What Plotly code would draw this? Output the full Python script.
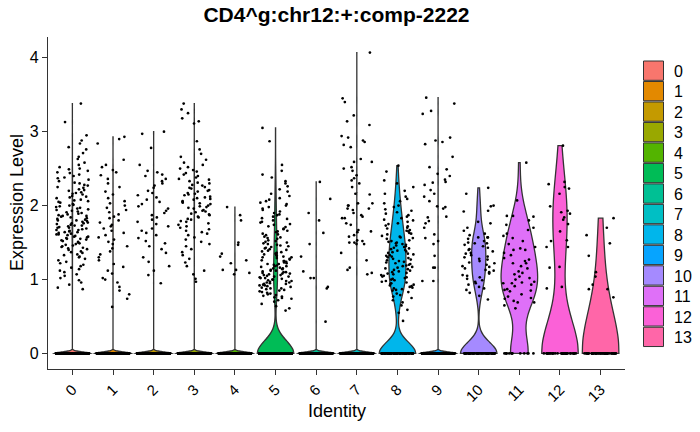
import numpy as np
import plotly.graph_objects as go

# ---------------- data ----------------
identities = [str(i) for i in range(14)]
colors = ["#F8766D", "#E38900", "#C49A00", "#99A800", "#53B400", "#00BC56", "#00C094",
          "#00BFC4", "#00B6EB", "#06A4FF", "#A58AFF", "#DF70F8", "#FB61D7", "#FF66A8"]

# number of cells with zero expression per identity (estimated)
zero_counts = [500, 500, 500, 500, 500, 520, 500, 500, 80, 500, 58, 13, 38, 48]

# non-zero expression values per identity
expr_0 = [3.38, 3.13, 2.95, 2.88, 2.84, 2.79, 2.76, 2.71, 2.66, 2.63, 2.58, 2.55, 2.52, 2.50, 2.49, 2.47,
          2.45, 2.44, 2.42, 2.40, 2.38, 2.37, 2.35, 2.33, 2.31, 2.30, 2.28, 2.27, 2.25, 2.24, 2.22, 2.21,
          2.20, 2.18, 2.17, 2.16, 2.15, 2.13, 2.12, 2.11, 2.10, 2.08, 2.07, 2.06, 2.05, 2.04, 2.02, 2.01,
          2.00, 1.99, 1.98, 1.97, 1.96, 1.95, 1.94, 1.93, 1.92, 1.91, 1.90, 1.89, 1.88, 1.87, 1.86, 1.86,
          1.85, 1.84, 1.83, 1.82, 1.81, 1.80, 1.80, 1.79, 1.78, 1.77, 1.76, 1.76, 1.75, 1.74, 1.73, 1.73,
          1.72, 1.71, 1.70, 1.70, 1.69, 1.68, 1.67, 1.67, 1.66, 1.65, 1.64, 1.64, 1.63, 1.62, 1.61, 1.61,
          1.60, 1.59, 1.58, 1.58, 1.57, 1.56, 1.55, 1.55, 1.54, 1.53, 1.52, 1.51, 1.50, 1.49, 1.48, 1.47,
          1.46, 1.45, 1.44, 1.43, 1.42, 1.41, 1.40, 1.38, 1.37, 1.36, 1.34, 1.33, 1.31, 1.30, 1.28, 1.26,
          1.24, 1.22, 1.20, 1.18, 1.16, 1.14, 1.12, 1.10, 1.07, 1.05, 1.02, 0.99, 0.96, 0.93, 0.89, 0.87]
expr_1 = [2.93, 2.90, 2.84, 2.62, 2.55, 2.52, 2.48, 2.45, 2.41, 2.36, 2.30, 2.25, 2.19, 2.15, 2.10, 2.06,
          2.03, 2.00, 1.97, 1.94, 1.91, 1.88, 1.85, 1.83, 1.80, 1.77, 1.74, 1.72, 1.69, 1.66, 1.63, 1.60,
          1.57, 1.54, 1.51, 1.48, 1.45, 1.42, 1.38, 1.34, 1.30, 1.26, 1.21, 1.17, 1.12, 1.08, 1.02, 1.00,
          0.96, 0.90, 0.85, 0.80, 0.74, 0.63]
expr_2 = [3.00, 2.97, 2.78, 2.55, 2.47, 2.45, 2.42, 2.40, 2.36, 2.33, 2.30, 2.27, 2.24, 2.20, 2.17, 2.14,
          2.11, 2.08, 2.05, 2.02, 1.99, 1.96, 1.93, 1.90, 1.87, 1.84, 1.81, 1.78, 1.75, 1.72, 1.69, 1.66,
          1.63, 1.60, 1.56, 1.52, 1.49, 1.45, 1.41, 1.36, 1.30, 1.24, 1.18, 1.12, 1.06, 0.95]
expr_3 = [3.38, 3.30, 3.25, 3.18, 3.14, 3.11, 2.87, 2.76, 2.70, 2.66, 2.62, 2.58, 2.55, 2.52, 2.50, 2.48,
          2.46, 2.44, 2.42, 2.40, 2.38, 2.36, 2.35, 2.33, 2.31, 2.30, 2.28, 2.27, 2.25, 2.24, 2.23, 2.21,
          2.20, 2.19, 2.17, 2.16, 2.15, 2.14, 2.12, 2.11, 2.10, 2.09, 2.08, 2.06, 2.05, 2.04, 2.03, 2.02,
          2.00, 1.99, 1.98, 1.97, 1.96, 1.94, 1.93, 1.92, 1.91, 1.89, 1.88, 1.87, 1.85, 1.84, 1.82, 1.81,
          1.79, 1.78, 1.76, 1.74, 1.72, 1.70, 1.68, 1.66, 1.64, 1.62, 1.60, 1.57, 1.54, 1.51, 1.48, 1.45,
          1.41, 1.37, 1.33, 1.28, 1.23, 1.18, 1.12, 1.07, 1.01, 0.97]
expr_4 = [1.98, 1.87, 1.80, 1.50, 1.47, 1.35, 1.31, 1.26, 1.22, 1.13, 1.13, 1.09, 1.07]
expr_5 = [3.05, 2.87, 2.55, 2.47, 2.42, 2.38, 2.33, 2.30, 2.26, 2.22, 2.19, 2.16, 2.13, 2.10, 2.08, 2.06,
          2.04, 2.02, 2.00, 1.98, 1.96, 1.94, 1.92, 1.90, 1.88, 1.87, 1.85, 1.83, 1.82, 1.80, 1.78, 1.77,
          1.75, 1.74, 1.72, 1.71, 1.69, 1.68, 1.66, 1.65, 1.64, 1.62, 1.61, 1.60, 1.58, 1.57, 1.56, 1.55,
          1.53, 1.52, 1.51, 1.50, 1.49, 1.48, 1.47, 1.46, 1.45, 1.44, 1.43, 1.42, 1.41, 1.40, 1.39, 1.38,
          1.37, 1.36, 1.35, 1.34, 1.33, 1.32, 1.31, 1.30, 1.30, 1.29, 1.28, 1.27, 1.26, 1.25, 1.25, 1.24,
          1.23, 1.22, 1.21, 1.21, 1.20, 1.19, 1.18, 1.18, 1.17, 1.16, 1.15, 1.15, 1.14, 1.13, 1.12, 1.12,
          1.11, 1.10, 1.10, 1.09, 1.08, 1.08, 1.07, 1.06, 1.06, 1.05, 1.04, 1.04, 1.03, 1.02, 1.02, 1.01,
          1.00, 1.00, 0.99, 0.98, 0.98, 0.97, 0.96, 0.96, 0.95, 0.94, 0.94, 0.93, 0.92, 0.92, 0.91, 0.90,
          0.89, 0.88, 0.88, 0.87, 0.86, 0.85, 0.84, 0.83, 0.82, 0.81, 0.80, 0.79, 0.78, 0.77, 0.76, 0.75,
          0.74, 0.72, 0.70, 0.67, 0.64, 0.61, 0.58]
expr_6 = [2.32, 2.09, 1.90, 1.80, 1.63, 1.48, 1.31, 1.11, 1.02, 1.02, 0.90, 0.88, 0.43]
expr_7 = [4.07, 3.45, 3.40, 3.22, 3.14, 3.09, 2.94, 2.92, 2.88, 2.86, 2.82, 2.79, 2.63, 2.59, 2.59, 2.52,
          2.50, 2.47, 2.41, 2.37, 2.34, 2.30, 2.25, 2.16, 2.15, 2.03, 2.03, 2.00, 2.00, 1.96, 1.96, 1.94,
          1.90, 1.87, 1.85, 1.83, 1.83, 1.76, 1.74, 1.67, 1.65, 1.64, 1.60, 1.58, 1.53, 1.52, 1.50, 1.50,
          1.48, 1.48, 1.36, 1.26, 1.16, 1.13, 1.09, 1.07]
expr_8 = [2.54, 2.46, 2.34, 2.30, 2.25, 2.20, 2.16, 2.12, 2.09, 2.06, 2.03, 2.00, 1.98, 1.95, 1.93, 1.91,
          1.89, 1.87, 1.85, 1.83, 1.81, 1.80, 1.78, 1.76, 1.75, 1.73, 1.72, 1.70, 1.69, 1.67, 1.66, 1.65,
          1.63, 1.62, 1.61, 1.59, 1.58, 1.57, 1.56, 1.55, 1.53, 1.52, 1.51, 1.50, 1.49, 1.48, 1.47, 1.46,
          1.45, 1.44, 1.43, 1.42, 1.41, 1.40, 1.39, 1.38, 1.37, 1.36, 1.35, 1.34, 1.33, 1.32, 1.31, 1.30,
          1.29, 1.28, 1.27, 1.26, 1.25, 1.24, 1.23, 1.22, 1.21, 1.20, 1.19, 1.18, 1.17, 1.16, 1.15, 1.14,
          1.13, 1.12, 1.11, 1.10, 1.09, 1.08, 1.07, 1.06, 1.05, 1.04, 1.03, 1.02, 1.01, 1.00, 0.99, 0.98,
          0.97, 0.96, 0.95, 0.94, 0.93, 0.92, 0.91, 0.90, 0.89, 0.88, 0.87, 0.86, 0.85, 0.83, 0.81, 0.79,
          0.77, 0.75, 0.72, 0.69, 0.65, 0.59, 0.55, 0.44]
expr_9 = [3.46, 3.38, 3.28, 3.24, 2.92, 2.88, 2.86, 2.83, 2.66, 2.52, 2.49, 2.43, 2.40, 2.35, 2.32, 2.31,
          2.28, 2.21, 2.16, 2.12, 2.06, 1.99, 1.98, 1.96, 1.85, 1.84, 1.79, 1.76, 1.70, 1.61, 1.56, 1.52,
          1.48, 1.32, 1.16, 1.16, 0.98, 0.98]
expr_10 = [2.24, 2.16, 2.00, 1.99, 1.93, 1.92, 1.78, 1.76, 1.70, 1.66, 1.62, 1.60, 1.57, 1.57, 1.57, 1.55,
           1.52, 1.50, 1.49, 1.49, 1.47, 1.45, 1.43, 1.41, 1.40, 1.38, 1.36, 1.35, 1.33, 1.31, 1.30, 1.28,
           1.27, 1.25, 1.23, 1.22, 1.20, 1.18, 1.17, 1.15, 1.13, 1.12, 1.10, 1.08, 1.06, 1.05, 1.03, 1.01,
           0.99, 0.97, 0.95, 0.93, 0.90, 0.88, 0.86, 0.82, 0.78, 0.73]
expr_11 = [2.58, 2.07, 1.86, 1.86, 1.85, 1.80, 1.74, 1.70, 1.67, 1.62, 1.59, 1.56, 1.52, 1.48, 1.44, 1.42,
           1.40, 1.40, 1.36, 1.33, 1.29, 1.27, 1.25, 1.22, 1.22, 1.18, 1.15, 1.11, 1.09, 1.07, 1.04, 1.02,
           1.00, 0.97, 0.96, 0.95, 0.95, 0.93, 0.91, 0.87, 0.86, 0.85, 0.84, 0.80, 0.77, 0.75, 0.74, 0.71,
           0.69, 0.69, 0.65, 0.61]
expr_12 = [2.81, 2.32, 2.29, 2.25, 2.23, 2.16, 1.99, 1.93, 1.91, 1.89, 1.84, 1.81, 1.75, 1.65, 1.53, 1.52,
           1.44, 1.44, 1.17, 1.16, 0.90, 0.88]
expr_13 = [1.83, 1.70, 1.60, 1.49, 1.32, 1.10, 1.04, 0.93, 0.87, 0.87, 0.76]

nonzero = [expr_0, expr_1, expr_2, expr_3, expr_4, expr_5, expr_6, expr_7,
           expr_8, expr_9, expr_10, expr_11, expr_12, expr_13]

# kernel bandwidth per violin (style)
bandwidths = [0.02, 0.02, 0.02, 0.02, 0.02, 0.17, 0.02, 0.02, 0.15, 0.02, 0.15, 0.26, 0.45, 0.55]

# ---------------- layout constants ----------------
W, H = 700, 432
ML, MR, MT, MB = 48, 75, 37, 63
PW, PH = W - ML - MR, H - MT - MB
FONT = "Liberation Sans, Arial, Helvetica, sans-serif"


def px_x(px):
    return (px - ML) / PW


def px_y(py):
    return (H - MB - py) / PH


fig = go.Figure()

for i in range(14):
    vals = [0.0] * zero_counts[i] + nonzero[i]
    fig.add_trace(go.Violin(
        x=[i] * len(vals), y=vals, width=0.9, bandwidth=bandwidths[i],
        spanmode="hard", scalemode="width", points=False,
        fillcolor=colors[i], line=dict(color="#333333", width=1.3),
        box_visible=False, meanline_visible=False, showlegend=False,
        hoverinfo="skip"))

for i in range(14):
    vals = np.array([0.0] * zero_counts[i] + nonzero[i])
    k = np.arange(len(vals))
    # deterministic hash-based horizontal jitter of +-0.4 (ggplot geom_jitter width)
    h = np.sin(k * 12.9898 + i * 78.233 + 1.7) * 43758.5453
    jitter = ((h - np.floor(h)) - 0.5) * 0.8
    fig.add_trace(go.Scatter(
        x=i + jitter, y=vals, mode="markers",
        marker=dict(size=2.7, color="black", line=dict(width=0)),
        showlegend=False, hoverinfo="skip"))

fig.update_layout(
    width=W, height=H, margin=dict(l=ML, r=MR, t=MT, b=MB),
    paper_bgcolor="white", plot_bgcolor="white",
    violinmode="overlay",
    font=dict(family=FONT, color="black", size=16),
    title=dict(text="<b>CD4^g:chr12:+:comp-2222</b>", x=px_x(336.5), xref="paper",
               xanchor="center", y=1 - 15 / H, yref="container", yanchor="middle",
               font=dict(size=21, family=FONT, color="black")),
)

fig.update_xaxes(
    range=[-0.6, 13.6], tickmode="array", tickvals=list(range(14)), ticktext=identities,
    tickangle=-45, ticks="outside", ticklen=5, tickwidth=1.1, tickcolor="#333333",
    showline=True, linecolor="#333333", linewidth=1.2, showgrid=False, zeroline=False,
    tickfont=dict(size=15, color="black", family=FONT))
fig.update_yaxes(
    range=[-0.21, 4.28], tickmode="array", tickvals=[0, 1, 2, 3, 4], ticktext=["0", "1", "2", "3", "4"],
    ticks="outside", ticklen=5, tickwidth=1.1, tickcolor="#333333",
    showline=True, linecolor="#333333", linewidth=1.2, showgrid=False, zeroline=False,
    tickfont=dict(size=16, color="black", family=FONT))

# axis titles
fig.add_annotation(text="Identity", x=px_x(336.5), y=px_y(411), xref="paper", yref="paper",
                   showarrow=False, xanchor="center", yanchor="middle",
                   font=dict(size=18, family=FONT, color="black"))
fig.add_annotation(text="Expression Level", x=px_x(17), y=px_y(203), xref="paper", yref="paper",
                   showarrow=False, xanchor="center", yanchor="middle", textangle=-90,
                   font=dict(size=18, family=FONT, color="black"))

# legend (drawn manually to match ggplot keys)
for i in range(14):
    top = 61 + i * 20.48
    fig.add_shape(type="rect", xref="paper", yref="paper",
                  x0=px_x(643.5), x1=px_x(663.5), y0=px_y(top + 19.3), y1=px_y(top),
                  fillcolor=colors[i], line=dict(color="#333333", width=1))
    fig.add_annotation(text=identities[i], x=px_x(671.5), y=px_y(top + 10.5), xref="paper", yref="paper",
                       showarrow=False, xanchor="left", yanchor="middle",
                       font=dict(size=16, family=FONT, color="black"))

fig.write_html("out.html")
